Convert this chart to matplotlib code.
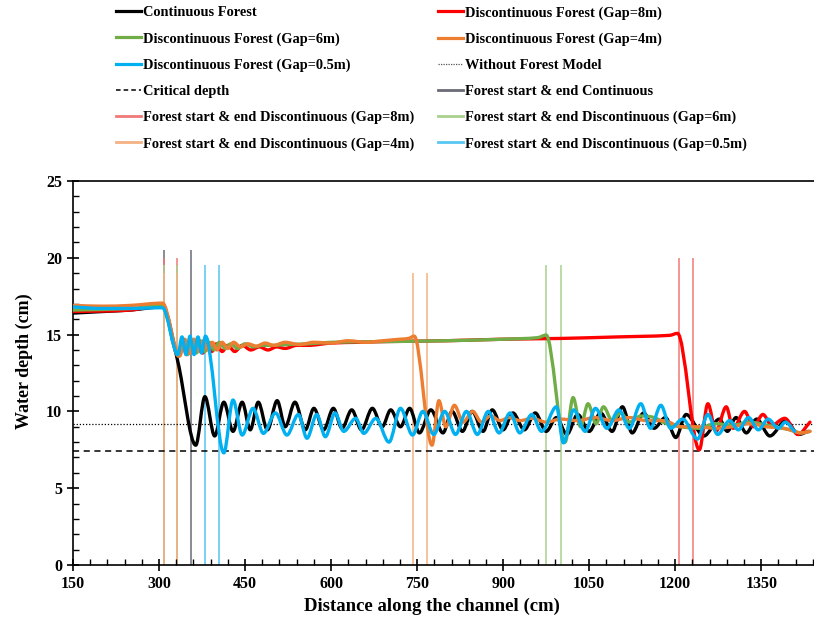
import numpy as np
import matplotlib
matplotlib.use('Agg')
import matplotlib.pyplot as plt
from matplotlib.lines import Line2D
from matplotlib.path import Path
from matplotlib.patches import PathPatch
from matplotlib.ticker import MultipleLocator

plt.rcParams['font.family'] = ['Liberation Serif', 'DejaVu Serif']
plt.rcParams['font.weight'] = 'bold'

# 连续林带
x_cont = [150, 200, 250, 306, 333, 364, 380, 397, 413, 429, 445, 459, 473, 489, 506, 520,
          537, 555, 570, 587, 604, 619, 636, 653, 672, 689, 704, 721, 737, 754, 774, 795,
          811, 829, 846, 865, 881, 900, 917, 937, 956, 975, 993, 1011, 1030, 1050, 1070,
          1090, 1108, 1125, 1145, 1163, 1183, 1201, 1219, 1250, 1277, 1291, 1306, 1324,
          1342, 1365, 1393, 1415, 1432]
y_cont = [16.4, 16.5, 16.6, 16.8, 13.2, 7.8, 10.96, 8.4, 10.6, 8.7, 10.6, 8.8, 10.6, 8.8, 10.7, 9.0,
          10.6, 8.8, 10.2, 8.8, 10.2, 8.9, 10.1, 8.8, 10.2, 9.0, 10.1, 9.0, 10.2, 8.6, 10.1, 8.6,
          10.0, 8.7, 10.0, 8.7, 10.1, 8.8, 9.9, 8.8, 9.9, 8.7, 9.6, 8.5, 9.8, 8.7, 9.9,
          8.7, 10.3, 8.6, 9.9, 8.9, 9.6, 8.3, 9.8, 8.4, 9.5, 8.7, 9.6, 8.6,
          9.5, 8.4, 9.4, 8.5, 8.7]

# 间断林带 Gap=8m
x_gap8 = [150, 250, 306, 334, 341, 348, 355, 362, 369, 376, 384, 392, 400, 410, 420, 432, 445,
          460, 475, 490, 505, 520, 540, 560, 600, 650, 700, 800, 900, 1000, 1100, 1190, 1204,
          1242, 1257, 1271, 1289, 1301, 1321, 1336, 1353, 1368, 1391, 1414, 1435]
y_gap8 = [16.5, 16.6, 16.9, 13.6, 14.5, 13.7, 14.6, 13.8, 14.5, 13.8, 14.4, 13.9, 14.4, 13.9, 14.3, 13.9, 14.3,
          14.0, 14.2, 14.0, 14.2, 14.1, 14.3, 14.3, 14.45, 14.5, 14.55, 14.6, 14.7, 14.75, 14.85, 14.95, 15.08,
          7.5, 10.5, 8.7, 10.3, 8.9, 10.0, 9.0, 9.8, 9.1, 9.55, 8.5, 9.3]

# 间断林带 Gap=6m
x_gap6 = [150, 250, 306, 334, 342, 350, 357, 365, 372, 380, 388, 396, 405, 415, 425, 437, 450,
          465, 480, 500, 520, 560, 600, 700, 800, 900, 960, 975, 1008, 1022, 1035, 1048, 1062,
          1075, 1090, 1105, 1120, 1140, 1163, 1185, 1210, 1240, 1270, 1300, 1330, 1360, 1400,
          1420, 1435]
y_gap6 = [16.6, 16.7, 16.9, 13.6, 14.6, 13.7, 14.6, 13.8, 14.6, 13.9, 14.5, 14.0, 14.5, 14.1, 14.4, 14.1, 14.4,
          14.2, 14.3, 14.3, 14.35, 14.4, 14.5, 14.55, 14.6, 14.7, 14.8, 14.97, 8.0, 10.9, 9.0, 10.5, 9.2,
          10.3, 9.4, 9.9, 9.3, 9.7, 9.6, 9.2, 9.0, 8.9, 9.2, 9.1, 9.3, 9.1, 8.8,
          8.6, 8.7]

# 间断林带 Gap=4m
x_gap4 = [150, 200, 250, 306, 336, 345, 353, 361, 369, 377, 385, 393, 401, 410, 420, 430, 442,
          455, 470, 485, 500, 520, 545, 570, 600, 630, 660, 690, 720, 735, 745, 776, 788, 800,
          815, 830, 847, 862, 878, 895, 910, 930, 950, 975, 1000, 1030, 1060, 1090, 1120, 1150,
          1180, 1210, 1240, 1270, 1300, 1330, 1360, 1390, 1420, 1435]
y_gap4 = [16.9, 16.85, 16.9, 17.05, 13.6, 14.7, 13.8, 14.7, 13.9, 14.6, 14.0, 14.5, 14.0, 14.5, 14.1, 14.5, 14.2,
          14.4, 14.25, 14.45, 14.3, 14.5, 14.35, 14.5, 14.45, 14.6, 14.5, 14.6, 14.7, 14.75, 14.9, 7.8, 10.7, 9.0,
          10.4, 9.3, 10.0, 9.3, 9.7, 9.4, 9.6, 9.4, 9.55, 9.3, 9.5, 9.4, 9.6, 9.4, 9.6, 9.4,
          9.4, 9.0, 9.0, 8.9, 9.0, 9.2, 9.0, 8.9, 8.6, 8.7]

# 间断林带 Gap=0.5m
x_gap05 = [150, 200, 250, 306, 333, 340, 347, 354, 361, 368, 374, 381, 413, 429, 445, 464, 482,
           503, 523, 543, 558, 575, 590, 607, 622, 643, 657, 678, 701, 721, 742, 760, 779, 798,
           817, 836, 855, 874, 893, 912, 929, 950, 967, 993, 1005, 1023, 1043, 1061, 1081, 1102,
           1120, 1140, 1157, 1175, 1192, 1213, 1239, 1257, 1274, 1295, 1310, 1328, 1345, 1362,
           1380, 1392, 1408]
y_gap05 = [16.8, 16.7, 16.7, 16.75, 13.7, 14.85, 13.7, 14.9, 13.7, 14.85, 13.8, 14.9, 7.3, 10.74, 8.46, 10.2, 8.57,
           9.9, 8.46, 9.8, 8.25, 9.8, 8.35, 9.9, 8.7, 9.55, 8.57, 9.55, 8.0, 10.2, 8.46, 10.0, 8.5, 10.0,
           8.5, 10.0, 8.5, 10.0, 8.6, 9.9, 8.6, 9.8, 8.7, 10.3, 7.95, 10.1, 8.7, 10.2, 8.9, 10.1,
           8.9, 10.5, 8.9, 10.4, 8.9, 9.5, 8.2, 9.8, 8.5, 9.4, 8.8, 9.6, 8.8, 9.5,
           8.9, 9.3, 8.7]

# 无林模型水深与临界水深
depth_no_forest = 9.2
depth_critical = 7.4

# 林带起止位置 (cm) 及竖线高度 (cm)
edges_cont = [308, 356]
edges_gap8 = [308, 332, 1207, 1231]
edges_gap6 = [308, 332, 975, 1000]
edges_gap4 = [308, 332, 743, 767]
edges_gap05 = [381, 405]
edge_heights = [20.5, 20.0, 19.5, 19.0, 19.5]

labels = ['Continuous Forest',
          'Discontinuous Forest (Gap=8m)',
          'Discontinuous Forest (Gap=6m)',
          'Discontinuous Forest (Gap=4m)',
          'Discontinuous Forest (Gap=0.5m)',
          'Without Forest Model',
          'Critical depth',
          'Forest start & end Continuous',
          'Forest start & end Discontinuous (Gap=8m)',
          'Forest start & end Discontinuous (Gap=6m)',
          'Forest start & end Discontinuous (Gap=4m)',
          'Forest start & end Discontinuous (Gap=0.5m)']

line_colors = ['#000000', '#ff0000', '#70ad47', '#ed7d31', '#00b0f0']
edge_colors = ['#6b6b78', '#f07878', '#a9d18e', '#f4b183', '#56c6f2']


def smooth_path(xs, ys):
    # 平滑曲线: 极值点处切线水平, 其余点取相邻两点连线斜率 (Excel 平滑线效果)
    xs = np.asarray(xs, dtype=float)
    ys = np.asarray(ys, dtype=float)
    n = len(xs)
    slope = np.zeros(n)
    slope[0] = (ys[1] - ys[0]) / (xs[1] - xs[0])
    slope[-1] = (ys[-1] - ys[-2]) / (xs[-1] - xs[-2])
    for i in range(1, n - 1):
        if (ys[i] - ys[i - 1]) * (ys[i + 1] - ys[i]) > 0:
            slope[i] = (ys[i + 1] - ys[i - 1]) / (xs[i + 1] - xs[i - 1])
    verts = [(xs[0], ys[0])]
    codes = [Path.MOVETO]
    for i in range(n - 1):
        h = (xs[i + 1] - xs[i]) / 3
        verts += [(xs[i] + h, ys[i] + slope[i] * h),
                  (xs[i + 1] - h, ys[i + 1] - slope[i + 1] * h),
                  (xs[i + 1], ys[i + 1])]
        codes += [Path.CURVE4] * 3
    return Path(verts, codes)


fig = plt.figure(figsize=(8.14, 6.30), dpi=100)
ax = fig.add_axes([73 / 814, 1 - 565 / 630, 741 / 814, (565 - 181) / 630])

# 林带起止竖线
all_edges = [edges_cont, edges_gap8, edges_gap6, edges_gap4, edges_gap05]
for edges, h, c in zip(all_edges, edge_heights, edge_colors):
    ax.vlines(edges, 0, h, colors=c, lw=1.1, zorder=1)

# 参考水深
ax.axhline(depth_no_forest, color='k', lw=0.9, ls=(0, (1, 1.5)), zorder=2)
ax.axhline(depth_critical, color='k', lw=1.1, ls=(0, (4, 3)), zorder=2)

# 水深曲线
series = [(x_cont, y_cont), (x_gap8, y_gap8), (x_gap6, y_gap6), (x_gap4, y_gap4), (x_gap05, y_gap05)]
for (xs, ys), c in zip(series, line_colors):
    patch = PathPatch(smooth_path(xs, ys), facecolor='none', edgecolor=c, lw=2.4,
                      joinstyle='round', capstyle='round', zorder=3)
    ax.add_patch(patch)

ax.set_xlim(150, 1442)
ax.set_ylim(0, 25)
ax.xaxis.set_major_locator(MultipleLocator(150))
ax.xaxis.set_minor_locator(MultipleLocator(30))
ax.yaxis.set_major_locator(MultipleLocator(5))
ax.yaxis.set_minor_locator(MultipleLocator(1))
ax.tick_params(which='major', direction='inout', length=8, width=1.2, labelsize=11.5, pad=4)
ax.tick_params(which='minor', direction='in', length=4, width=1.0)
for lab in ax.get_xticklabels() + ax.get_yticklabels():
    lab.set_fontweight('bold')
ax.spines['right'].set_visible(False)
for s in ['left', 'bottom', 'top']:
    ax.spines[s].set_linewidth(1.2)

ax.set_xlabel('Distance along the channel (cm)', fontsize=13.5, fontweight='bold')
ax.set_ylabel('Water depth (cm)', fontsize=13, fontweight='bold')
ax.xaxis.set_label_coords(0.485, -0.085)
ax.yaxis.set_label_coords(-0.054, 0.53)

# 图例 (两列, 按行排列)
handles = [Line2D([], [], color=c, lw=2.3) for c in line_colors]
handles.append(Line2D([], [], color='#555555', lw=0.9, ls=(0, (1, 1))))
handles.append(Line2D([], [], color='k', lw=1.1, ls=(0, (3, 2))))
handles += [Line2D([], [], color=c, lw=2.0) for c in edge_colors]
order = list(range(0, 12, 2)) + list(range(1, 12, 2))
fig.legend([handles[i] for i in order], [labels[i] for i in order],
           loc='upper left', bbox_to_anchor=(103 / 814, 1.011), ncol=2, frameon=False,
           handlelength=1.75, handletextpad=0.12, columnspacing=1.65,
           labelspacing=0.89, prop={'weight': 'bold', 'size': 10.4})

plt.savefig('out.png', dpi=100)
